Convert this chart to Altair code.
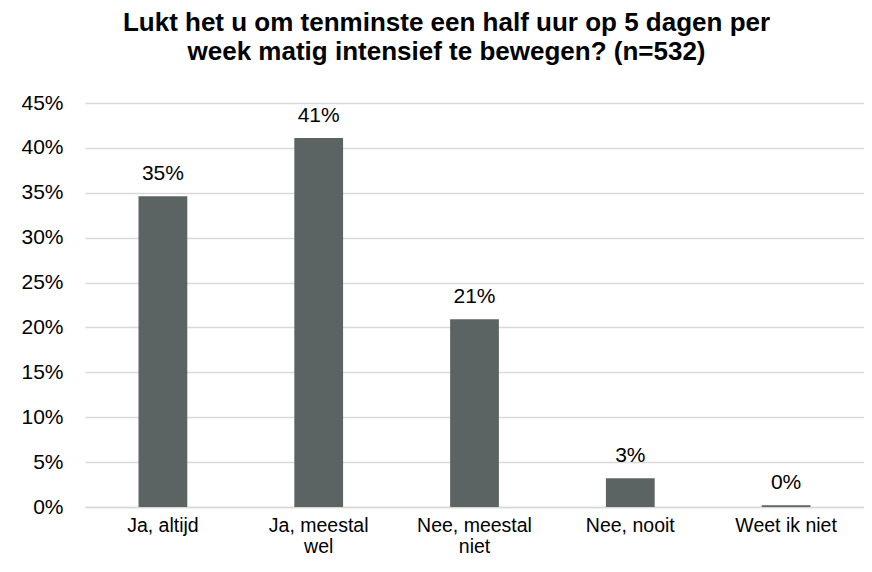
import altair as alt
import pandas as pd

categories = ["Ja, altijd", "Ja, meestal wel", "Nee, meestal niet", "Nee, nooit", "Weet ik niet"]
label_lines = [["Ja, altijd"], ["Ja, meestal", "wel"], ["Nee, meestal", "niet"], ["Nee, nooit"], ["Weet ik niet"]]
values = [0.346, 0.411, 0.209, 0.032, 0.002]
y_ticks = [0, 0.05, 0.10, 0.15, 0.20, 0.25, 0.30, 0.35, 0.40, 0.45]
title_lines = ["Lukt het u om tenminste een half uur op 5 dagen per",
               "week matig intensief te bewegen? (n=532)"]

df = pd.DataFrame({"cat": categories, "val": values})

parts = []
for c, lines in zip(categories, label_lines):
    arr = "[" + ",".join("'" + l + "'" for l in lines) + "]"
    parts.append(f"datum.label == '{c}' ? {arr} : ")
label_expr = "".join(parts) + "datum.label"

FONT = "Arial, Liberation Sans, sans-serif"
BAR = "#5b6462"

base = alt.Chart(df).encode(
    x=alt.X("cat:N", sort=categories, title=None,
            scale=alt.Scale(paddingInner=0.687, paddingOuter=0.3435),
            axis=alt.Axis(labelAngle=0, ticks=False, domain=True, domainColor="#d9d9d9",
                          domainWidth=1.3, labelFontSize=19.5, labelFont=FONT, labelColor="#000000",
                          labelPadding=9, labelLineHeight=21.5, labelExpr=label_expr)),
    y=alt.Y("val:Q", title=None,
            scale=alt.Scale(domain=[0, 0.45], nice=False),
            axis=alt.Axis(values=y_ticks, format=".0%", ticks=False, domain=False,
                          grid=True, gridColor="#d9d9d9", gridWidth=1.3,
                          labelFontSize=21, labelFont=FONT, labelColor="#000000",
                          labelPadding=22)),
)

bars = base.mark_bar(color=BAR)
texts = base.mark_text(dy=-16, baseline="alphabetic", fontSize=21, font=FONT, color="#000000").encode(
    text=alt.Text("val:Q", format=".0%"))

chart = (bars + texts).properties(
    width=779, height=404,
    autosize=alt.AutoSizeParams(type="none"),
    padding={"left": 77, "top": 95, "right": 0, "bottom": 51},
    title=alt.TitleParams(text=title_lines, fontSize=26, font=FONT, fontWeight="bold",
                          color="#000000", anchor="middle", dx=-28, offset=27, lineHeight=29),
).configure_view(stroke=None)

chart.save("out.html", embed_options={"renderer": "svg", "actions": False})
